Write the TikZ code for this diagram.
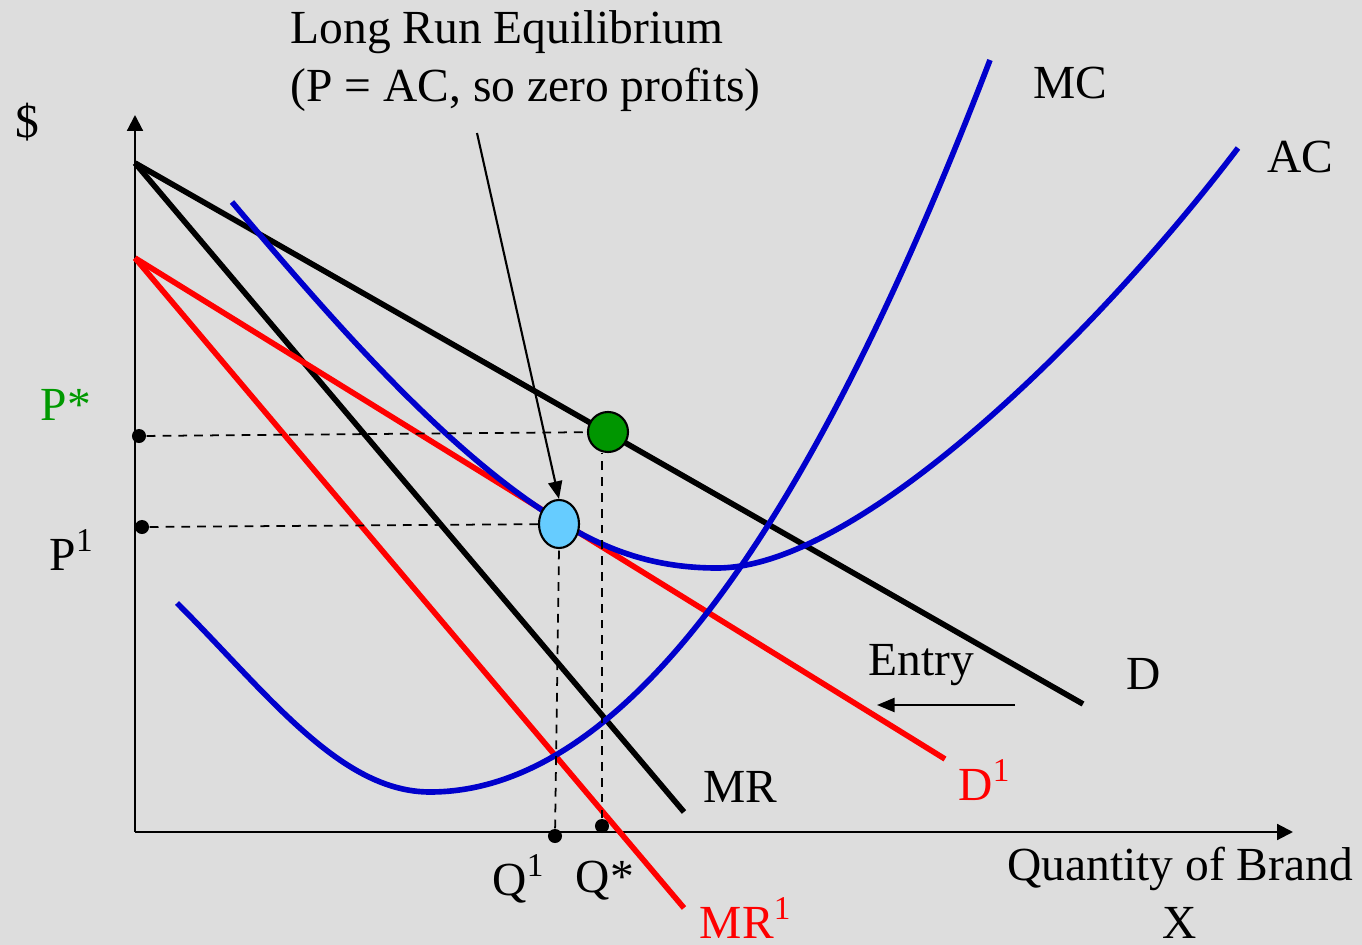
\documentclass[tikz,border=0pt]{standalone}
\usepackage{fontspec}
\setmainfont{Liberation Serif}
\usepackage{tikz}
\usetikzlibrary{arrows.meta, shapes.geometric, calc}
\definecolor{bggray}{RGB}{221,221,221}
\definecolor{costblue}{RGB}{0,0,204}
\definecolor{eqgreen}{RGB}{0,150,0}
\definecolor{pgreen}{RGB}{0,153,0}
\definecolor{eqblue}{RGB}{102,204,255}

\begin{document}
\begin{tikzpicture}[x=0.01cm, y=-0.01cm, font=\fontsize{13.5}{16.5}\selectfont,
  curve/.style={line width=1.6pt},
  guide/.style={dash pattern=on 2.5pt off 2pt, line width=0.5pt},
  dot/.style={circle, fill=black, inner sep=0pt, minimum size=0.14cm},
  lbl/.style={inner sep=0pt}]
  \fill[bggray] (0,0) rectangle (1362,945);
  \useasboundingbox (0,0) rectangle (1362,945);
  % axes
  \draw[line width=0.6pt, -{Triangle[length=4.5pt,width=4.5pt]}] (135,832) -- (135,115);
  \draw[line width=0.6pt, -{Triangle[length=4.5pt,width=4.5pt]}] (135,832) -- (1293,832);
  % demand and marginal revenue
  \draw[curve] (135,163) -- (1083,704);
  \draw[curve] (135,163) -- (684,812);
  \draw[curve, red] (135,258) -- (945,759);
  \draw[curve, red] (135,258) -- (684,908);
  % cost curves
  \draw[curve, costblue] (177,603) .. controls (267,693) and (340,792) .. (430,792)
    .. controls (617,792) and (803,548) .. (990,60);
  \draw[curve, costblue] (232,202) .. controls (342,332) and (449,453) .. (559,521)
    .. controls (609,552) and (657,568) .. (717,568)
    .. controls (860,568) and (1100,330) .. (1238,148);
  % equilibria
  \node[circle, draw, line width=0.6pt, fill=eqgreen, minimum size=0.4cm, inner sep=0pt] (sreq) at (608,432) {};
  \node[ellipse, draw, line width=0.6pt, fill=eqblue, minimum width=0.4cm, minimum height=0.48cm, inner sep=0pt] (lreq) at (559,524) {};
  \node[dot] (pstar) at (139,436) {};
  \node[dot] (pone) at (142,527) {};
  \node[dot] (qone) at (555,836) {};
  \node[dot] (qstar) at (602,826) {};
  \draw[guide] (pstar) -- (sreq);
  \draw[guide] (pone) -- (lreq);
  \draw[guide] (qstar) -- (qstar |- sreq.south);
  \draw[guide] (qone) -- (lreq.south);
  % labels
  \node[lbl] (dollar) at (27,122) {\$};
  \node[lbl, anchor=north west, align=left] (lrelabel) at (290,10) {Long Run Equilibrium\\(P = AC, so zero profits)};
  \coordinate (lretail) at (477,133);
  \draw[line width=0.6pt, -{Triangle[length=5pt,width=4pt]}] (lretail) -- (lreq.north);
  \node[lbl] (mclabel) at (1070,83) {MC};
  \node[lbl] (aclabel) at (1300,157) {AC};
  \node[lbl, text=pgreen] (pstarlabel) at (66,405) {P*};
  \node[lbl] (ponelabel) at (72,550) {P\textsuperscript{1}};
  \node[lbl] (dlabel) at (1144,674) {D};
  \node[lbl] (entrylabel) at (921,665) {Entry};
  \coordinate (entrytail) at (1015,705);
  \coordinate (entryhead) at (877,705);
  \draw[line width=0.6pt, -{Triangle[length=5pt,width=4pt]}] (entrytail) -- (entryhead);
  \node[lbl, text=red] (donelabel) at (985,780) {D\textsuperscript{1}};
  \node[lbl] (mrlabel) at (740,787) {MR};
  \node[lbl] (qonelabel) at (519,879) {Q\textsuperscript{1}};
  \node[lbl] (qstarlabel) at (605,881) {Q*};
  \node[lbl, text=red] (mronelabel) at (746,918) {MR\textsuperscript{1}};
  \node[lbl, align=center, anchor=north] (xlabel) at (1180,846) {Quantity of Brand\\X};
\end{tikzpicture}
\end{document}
